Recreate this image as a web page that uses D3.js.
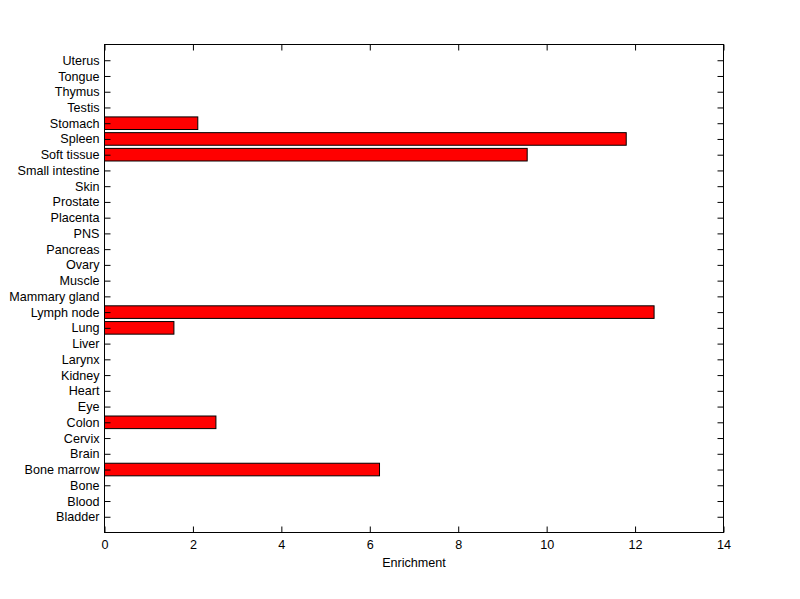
<!DOCTYPE html>
<html><head><meta charset="utf-8">
<script src="https://cdn.jsdelivr.net/npm/d3@7"></script>
<style>body{margin:0;background:#fff}svg{display:block}text{font-family:"Liberation Sans",Arial,sans-serif}</style>
</head><body><svg id="c" width="800" height="599"></svg>
<script>
const categories = ["Bladder","Blood","Bone","Bone marrow","Brain","Cervix","Colon","Eye","Heart","Kidney","Larynx","Liver","Lung","Lymph node","Mammary gland","Muscle","Ovary","Pancreas","PNS","Placenta","Prostate","Skin","Small intestine","Soft tissue","Spleen","Stomach","Testis","Thymus","Tongue","Uterus"];
const values = [0,0,0,6.22,0,0,2.52,0,0,0,0,0,1.57,12.43,0,0,0,0,0,0,0,0,0,9.56,11.80,2.11,0,0,0,0];
const xTicks = [0,2,4,6,8,10,12,14];
const xLabel = "Enrichment";

const svg = d3.select("#c");
const L=104.5, R=723.5, T=44.5, B=532.5;
const FS = "12.6px";
const x = d3.scaleLinear().domain([0,14]).range([L,R]);
const y = d3.scaleLinear().domain([0,categories.length+1]).range([B,T]);
const bw = 0.8*(y(0)-y(1));

svg.append("g").selectAll("rect")
  .data(values.map((v,i)=>({v,i})).filter(d=>d.v>0))
  .join("rect")
  .attr("x",x(0)).attr("y",d=>y(d.i+1)-bw/2)
  .attr("width",d=>x(d.v)-x(0)).attr("height",bw)
  .attr("fill","#ff0000").attr("stroke","#000").attr("stroke-width",1);

const tl=6;
const ya = svg.append("g").attr("transform",`translate(${L},0)`)
  .call(d3.axisLeft(y).tickValues(d3.range(1,categories.length+1)).tickFormat(i=>categories[i-1]).tickSizeInner(-tl).tickSizeOuter(0).tickPadding(5));
const ya2 = svg.append("g").attr("transform",`translate(${R},0)`)
  .call(d3.axisRight(y).tickValues(d3.range(1,categories.length+1)).tickFormat("").tickSizeInner(-tl).tickSizeOuter(0));
const xa = svg.append("g").attr("transform",`translate(0,${B})`)
  .call(d3.axisBottom(x).tickValues(xTicks).tickFormat(d3.format("d")).tickSizeInner(-tl).tickSizeOuter(0).tickPadding(8));
const xa2 = svg.append("g").attr("transform",`translate(0,${T})`)
  .call(d3.axisTop(x).tickValues(xTicks).tickFormat("").tickSizeInner(-tl).tickSizeOuter(0));
[ya,ya2,xa,xa2].forEach(g=>{g.select(".domain").remove();g.selectAll("line").attr("stroke","#000");g.selectAll("text").attr("fill","#000").attr("font-size",FS).attr("font-family","'Liberation Sans',Arial,sans-serif");});
svg.append("rect").attr("x",L).attr("y",T).attr("width",R-L).attr("height",B-T).attr("fill","none").attr("stroke","#000");
svg.append("text").attr("x",(L+R)/2).attr("y",567).attr("text-anchor","middle").attr("font-size",FS).text(xLabel);
</script></body></html>
